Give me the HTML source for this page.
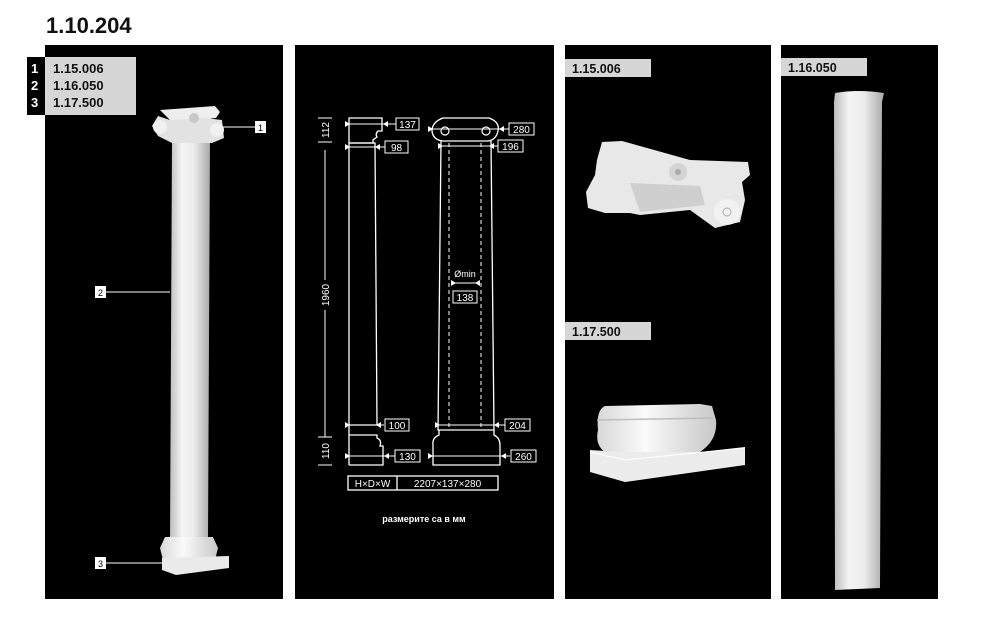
<!DOCTYPE html>
<html><head><meta charset="utf-8"><style>
html,body{margin:0;padding:0;background:#fff;}
svg{display:block;font-family:"Liberation Sans",sans-serif;}
</style></head><body>
<svg width="984" height="644" viewBox="0 0 984 644" xmlns="http://www.w3.org/2000/svg">
<defs>
<linearGradient id="sh" x1="0" x2="1" y1="0" y2="0">
<stop offset="0" stop-color="#bdbdbd"/><stop offset="0.3" stop-color="#f4f4f4"/><stop offset="0.6" stop-color="#ececec"/><stop offset="1" stop-color="#a8a8a8"/>
</linearGradient>
<linearGradient id="sh2" x1="0" x2="1" y1="0" y2="0">
<stop offset="0" stop-color="#d8d8d8"/><stop offset="0.4" stop-color="#fafafa"/><stop offset="1" stop-color="#c8c8c8"/>
</linearGradient>
</defs>
<rect width="984" height="644" fill="#fff"/>
<text x="46" y="33" font-size="22" font-weight="bold" fill="#111">1.10.204</text>
<rect x="45" y="45" width="238" height="554" fill="#000"/>
<rect x="295" y="45" width="259" height="554" fill="#000"/>
<rect x="565" y="45" width="206" height="554" fill="#000"/>
<rect x="781" y="45" width="157" height="554" fill="#000"/>

<rect x="27" y="57" width="18" height="58" fill="#000"/>
<rect x="45" y="57" width="91" height="58" fill="#d6d6d6"/>
<g font-size="13" font-weight="bold">
<text x="31" y="73" fill="#fff">1</text><text x="31" y="90" fill="#fff">2</text><text x="31" y="107" fill="#fff">3</text>
<text x="53" y="73" fill="#111">1.15.006</text><text x="53" y="90" fill="#111">1.16.050</text><text x="53" y="107" fill="#111">1.17.500</text>
</g>

<path d="M172 140 L210 140 L208 540 L170 540 Z" fill="url(#sh)"/>
<path d="M160 110 L215 106 L220 112 L216 118 L172 122 Z" fill="#eeeeee"/>
<path d="M158 116 L170 120 L205 118 L222 120 L224 138 L212 143 L172 143 L158 136 L152 126 Z" fill="#e2e2e2"/>
<circle cx="160" cy="127" r="7" fill="#f0f0f0"/><circle cx="217" cy="130" r="7" fill="#f0f0f0"/>
<circle cx="194" cy="118" r="5" fill="#c8c8c8"/>
<path d="M165 537 L213 537 L218 548 L215 560 L163 560 L160 548 Z" fill="url(#sh2)"/>
<path d="M162 558 L229 556 L229 568 L176 575 L162 570 Z" fill="#eaeaea"/>
<line x1="220" y1="127" x2="255" y2="127" stroke="#fff" stroke-width="1"/>
<rect x="255" y="121" width="11" height="12" fill="#fff"/><text x="258" y="131" font-size="9" fill="#000">1</text>
<line x1="106" y1="292" x2="170" y2="292" stroke="#fff" stroke-width="1"/>
<rect x="95" y="286" width="11" height="12" fill="#fff"/><text x="98" y="296" font-size="9" fill="#000">2</text>
<line x1="106" y1="563" x2="162" y2="563" stroke="#fff" stroke-width="1"/>
<rect x="95" y="557" width="11" height="12" fill="#fff"/><text x="98" y="567" font-size="9" fill="#000">3</text>

<g stroke="#fff" fill="none" stroke-width="1.3">
<path d="M349 118 L382 118 L382 131 L378 131 Q375 134 377 137 L373 140 L373 143 L349 143 Z"/>
<path d="M350 143 L375 143 L377 425 L349 425"/>
<line x1="349" y1="143" x2="349" y2="465"/>
<path d="M349 435 L377 435 L377 438 Q382 440 380 446 L383 446 L383 465 L349 465"/>
<path d="M443 118 L489 118 Q500 122 498 131 Q496 140 488 141 L443 141 Q433 140 432 131 Q432 122 443 118 Z"/>
<path d="M441 141 L438 430 L494 430 L491 141"/>
<path d="M439 430 L439 435 Q432 438 433 445 L433 465 L500 465 L500 445 Q500 438 494 435 L494 430"/>
<rect x="348" y="476" width="150" height="14"/><line x1="397" y1="476" x2="397" y2="490"/>
</g>
<g stroke="#fff" fill="none" stroke-width="1.2">
<circle cx="445" cy="131" r="4"/><circle cx="486" cy="131" r="4"/>
</g>
<g stroke="#fff" stroke-width="1" stroke-dasharray="4,3">
<line x1="449" y1="143" x2="449" y2="430"/><line x1="481" y1="143" x2="481" y2="430"/>
</g>
<g stroke="#fff" stroke-width="1">
<line x1="325" y1="150" x2="325" y2="280"/>
<line x1="325" y1="310" x2="325" y2="437"/>
<line x1="318" y1="118" x2="332" y2="118"/><line x1="318" y1="142" x2="332" y2="142"/>
<line x1="318" y1="437" x2="332" y2="437"/><line x1="318" y1="465" x2="332" y2="465"/>
<line x1="345" y1="124" x2="396" y2="124"/><line x1="345" y1="147" x2="385" y2="147"/>
<line x1="430" y1="129" x2="509" y2="129"/><line x1="438" y1="146" x2="498" y2="146"/>
<line x1="451" y1="283" x2="480" y2="283"/>
<line x1="345" y1="425" x2="384" y2="425"/><line x1="435" y1="425" x2="505" y2="425"/>
<line x1="345" y1="456" x2="395" y2="456"/><line x1="428" y1="456" x2="510" y2="456"/>
</g>
<g fill="#fff" stroke="none">
<path d="M345 121 L350 124 L345 127Z"/><path d="M388 121 L383 124 L388 127Z"/>
<path d="M345 144 L350 147 L345 150Z"/><path d="M380 144 L375 147 L380 150Z"/>
<path d="M428 126 L433 129 L428 132Z"/><path d="M504 126 L499 129 L504 132Z"/>
<path d="M438 143 L443 146 L438 149Z"/><path d="M494 143 L489 146 L494 149Z"/>
<path d="M451 280 L456 283 L451 286Z"/><path d="M480 280 L475 283 L480 286Z"/>
<path d="M345 422 L350 425 L345 428Z"/><path d="M381 422 L376 425 L381 428Z"/>
<path d="M435 422 L440 425 L435 428Z"/><path d="M499 422 L494 425 L499 428Z"/>
<path d="M345 453 L350 456 L345 459Z"/><path d="M389 453 L384 456 L389 459Z"/>
<path d="M428 453 L433 456 L428 459Z"/><path d="M506 453 L501 456 L506 459Z"/>
</g>
<g stroke="#fff" fill="none" stroke-width="1">
<rect x="396" y="118" width="23" height="12"/><rect x="385" y="141" width="23" height="12"/>
<rect x="509" y="123" width="25" height="12"/><rect x="498" y="140" width="25" height="12"/>
<rect x="453" y="291" width="24" height="12"/>
<rect x="385" y="419" width="24" height="12"/><rect x="505" y="419" width="25" height="12"/>
<rect x="395" y="450" width="25" height="12"/><rect x="511" y="450" width="25" height="12"/>
</g>
<g fill="#fff" font-size="10" text-anchor="middle">
<text x="407.5" y="128">137</text><text x="396.5" y="151">98</text>
<text x="521.5" y="133">280</text><text x="510.5" y="150">196</text>
<text x="465" y="301">138</text><text x="465" y="277" font-size="9">Ømin</text>
<text x="397" y="429">100</text><text x="517.5" y="429">204</text>
<text x="407.5" y="460">130</text><text x="523.5" y="460">260</text>
<text x="372.5" y="487">H×D×W</text><text x="447.5" y="487">2207×137×280</text>
<text x="424" y="522" font-size="9" font-weight="bold">размерите са в мм</text>
<text transform="translate(329,130) rotate(-90)">112</text>
<text transform="translate(329,295) rotate(-90)">1960</text>
<text transform="translate(329,451) rotate(-90)">110</text>
</g>

<rect x="565" y="59" width="86" height="18" fill="#d6d6d6"/>
<text x="572" y="73" font-size="12.5" font-weight="bold" fill="#111">1.15.006</text>
<rect x="565" y="322" width="86" height="18" fill="#d6d6d6"/>
<text x="572" y="336" font-size="12.5" font-weight="bold" fill="#111">1.17.500</text>
<path d="M602 142 L622 141 L690 160 L748 162 L750 175 L742 182 L745 200 L740 222 L715 228 L690 210 L640 215 L630 213 L605 213 L588 208 L586 192 L595 175 L597 160 Z" fill="#e8e8e8"/>
<path d="M630 183 L700 186 L705 205 L640 212 Z" fill="#cfcfcf"/>
<circle cx="678" cy="172" r="9" fill="#d4d4d4"/><circle cx="678" cy="172" r="3" fill="#aaa"/>
<circle cx="727" cy="212" r="13" fill="#f2f2f2"/><circle cx="727" cy="212" r="4" fill="none" stroke="#aaa"/>
<path d="M598 430 Q596 410 605 406 L700 404 L712 406 L716 420 Q718 440 700 452 L610 455 Q594 448 598 430 Z" fill="url(#sh2)"/>
<path d="M597 420 L713 418" stroke="#bdbdbd" stroke-width="1.5"/>
<path d="M590 450 L620 452 L700 452 L745 447 L745 465 L625 482 L590 472 Z" fill="#ececec"/>
<path d="M590 452 L625 460 L745 448" stroke="#fff" fill="none"/>

<rect x="781" y="58" width="86" height="18" fill="#d6d6d6"/>
<text x="788" y="72" font-size="12.5" font-weight="bold" fill="#111">1.16.050</text>
<path d="M835 93 Q858 89 884 93 L882 102 L880 588 L835 590 L834 102 Z" fill="url(#sh)"/>
</svg>
</body></html>
